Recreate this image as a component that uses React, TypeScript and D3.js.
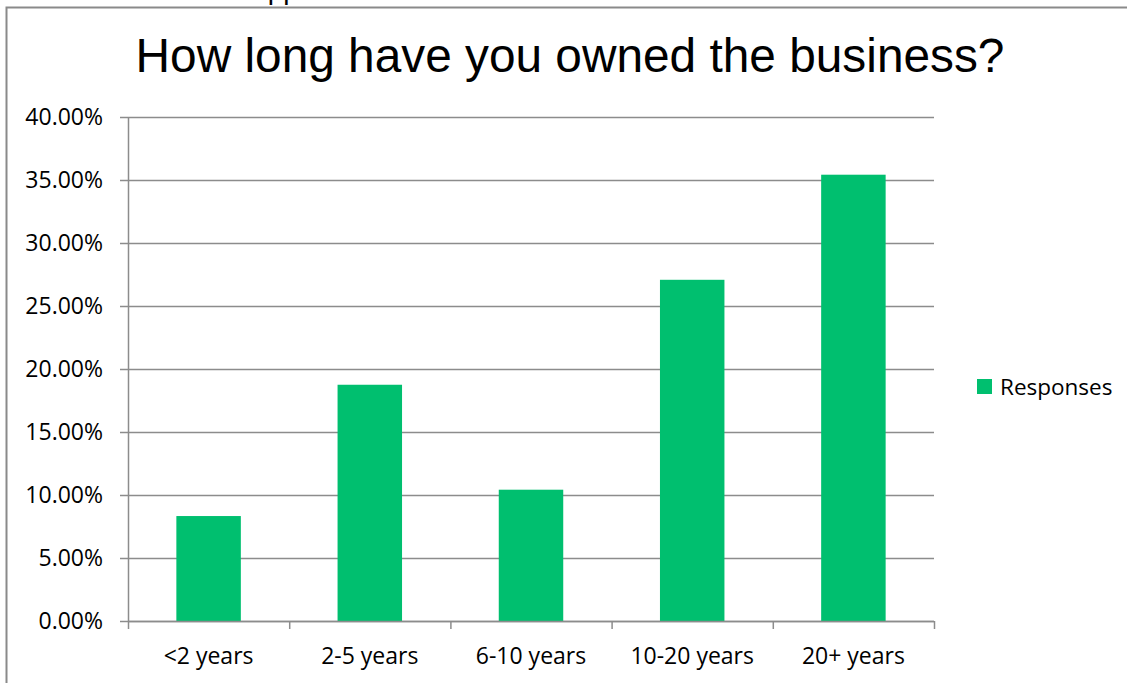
import React from "react";
import * as d3 from "d3";

const categories = ["<2 years", "2-5 years", "6-10 years", "10-20 years", "20+ years"];
const responses = [0.0833, 0.1875, 0.1042, 0.2708, 0.3542];
const yTicks = [0, 0.05, 0.1, 0.15, 0.2, 0.25, 0.3, 0.35, 0.4];
const title = "How long have you owned the business?";
const seriesName = "Responses";

const W = 1127;
const H = 683;
const plot = { left: 128, right: 934, top: 117, bottom: 621 };
const barColor = "#00BF6F";
const gridColor = "#8c8c8c";
const labelFont = "'Open Sans', 'Liberation Sans', sans-serif";

export default function App() {
  const x = d3
    .scaleBand<string>()
    .domain(categories)
    .range([plot.left, plot.right])
    .paddingInner(0.6)
    .paddingOuter(0.3);
  const y = d3.scaleLinear().domain([0, 0.4]).range([plot.bottom, plot.top]);
  const step = (plot.right - plot.left) / categories.length;
  const fmt = d3.format(".2%");

  return (
    <div style={{ position: "absolute", left: 0, top: 0, width: W, height: H, overflow: "hidden", background: "#fff" }}>
      <svg width={W} height={H} style={{ display: "block" }}>
        <rect x={0} y={0} width={W} height={H} fill="#fff" />
        {/* cut-off page text above the chart frame */}
        <text x={249} y={-1} fontFamily="'Liberation Sans', Arial, sans-serif" fontSize={28} fill="#000">
          Appendix
        </text>
        {/* chart frame */}
        <path d={`M6.5,${H + 2} V7.5 H${W + 2}`} fill="none" stroke="#8a8a8a" strokeWidth={2} />

        <text
          x={570}
          y={72}
          textAnchor="middle"
          fontFamily="'Liberation Sans', Arial, sans-serif"
          fontSize={47.8}
          fill="#000"
        >
          {title}
        </text>

        {/* gridlines & y ticks */}
        {yTicks.map((t) => (
          <g key={t}>
            <line
              x1={plot.left - 8}
              x2={plot.right}
              y1={Math.round(y(t)) + 0.5}
              y2={Math.round(y(t)) + 0.5}
              stroke={gridColor}
              strokeWidth={1.5}
            />
            <text
              x={103}
              y={y(t)}
              dy="0.36em"
              textAnchor="end"
              fontFamily={labelFont}
              fontSize={23}
              fill="#000"
            >
              {fmt(t)}
            </text>
          </g>
        ))}
        {/* y axis line */}
        <line x1={plot.left + 0.5} x2={plot.left + 0.5} y1={plot.top} y2={plot.bottom} stroke={gridColor} strokeWidth={1.5} />

        {/* bars */}
        {categories.map((c, i) => (
          <rect
            key={c}
            x={x(c)}
            y={y(responses[i])}
            width={x.bandwidth()}
            height={y(0) - y(responses[i])}
            fill={barColor}
          />
        ))}

        {/* x axis line & ticks */}
        <line x1={plot.left} x2={plot.right} y1={plot.bottom + 0.5} y2={plot.bottom + 0.5} stroke={gridColor} strokeWidth={1.5} />
        {d3.range(categories.length + 1).map((i) => (
          <line
            key={i}
            x1={plot.left + i * step + 0.5}
            x2={plot.left + i * step + 0.5}
            y1={plot.bottom}
            y2={plot.bottom + 8}
            stroke={gridColor}
            strokeWidth={1.5}
          />
        ))}
        {categories.map((c) => (
          <text
            key={c}
            x={(x(c) as number) + x.bandwidth() / 2}
            y={664}
            textAnchor="middle"
            fontFamily={labelFont}
            fontSize={23}
            fill="#000"
          >
            {c}
          </text>
        ))}

        {/* legend */}
        <rect x={977} y={379} width={15} height={15} fill={barColor} />
        <text x={1000} y={395} fontFamily={labelFont} fontSize={22.5} fill="#000">
          {seriesName}
        </text>
      </svg>
    </div>
  );
}
